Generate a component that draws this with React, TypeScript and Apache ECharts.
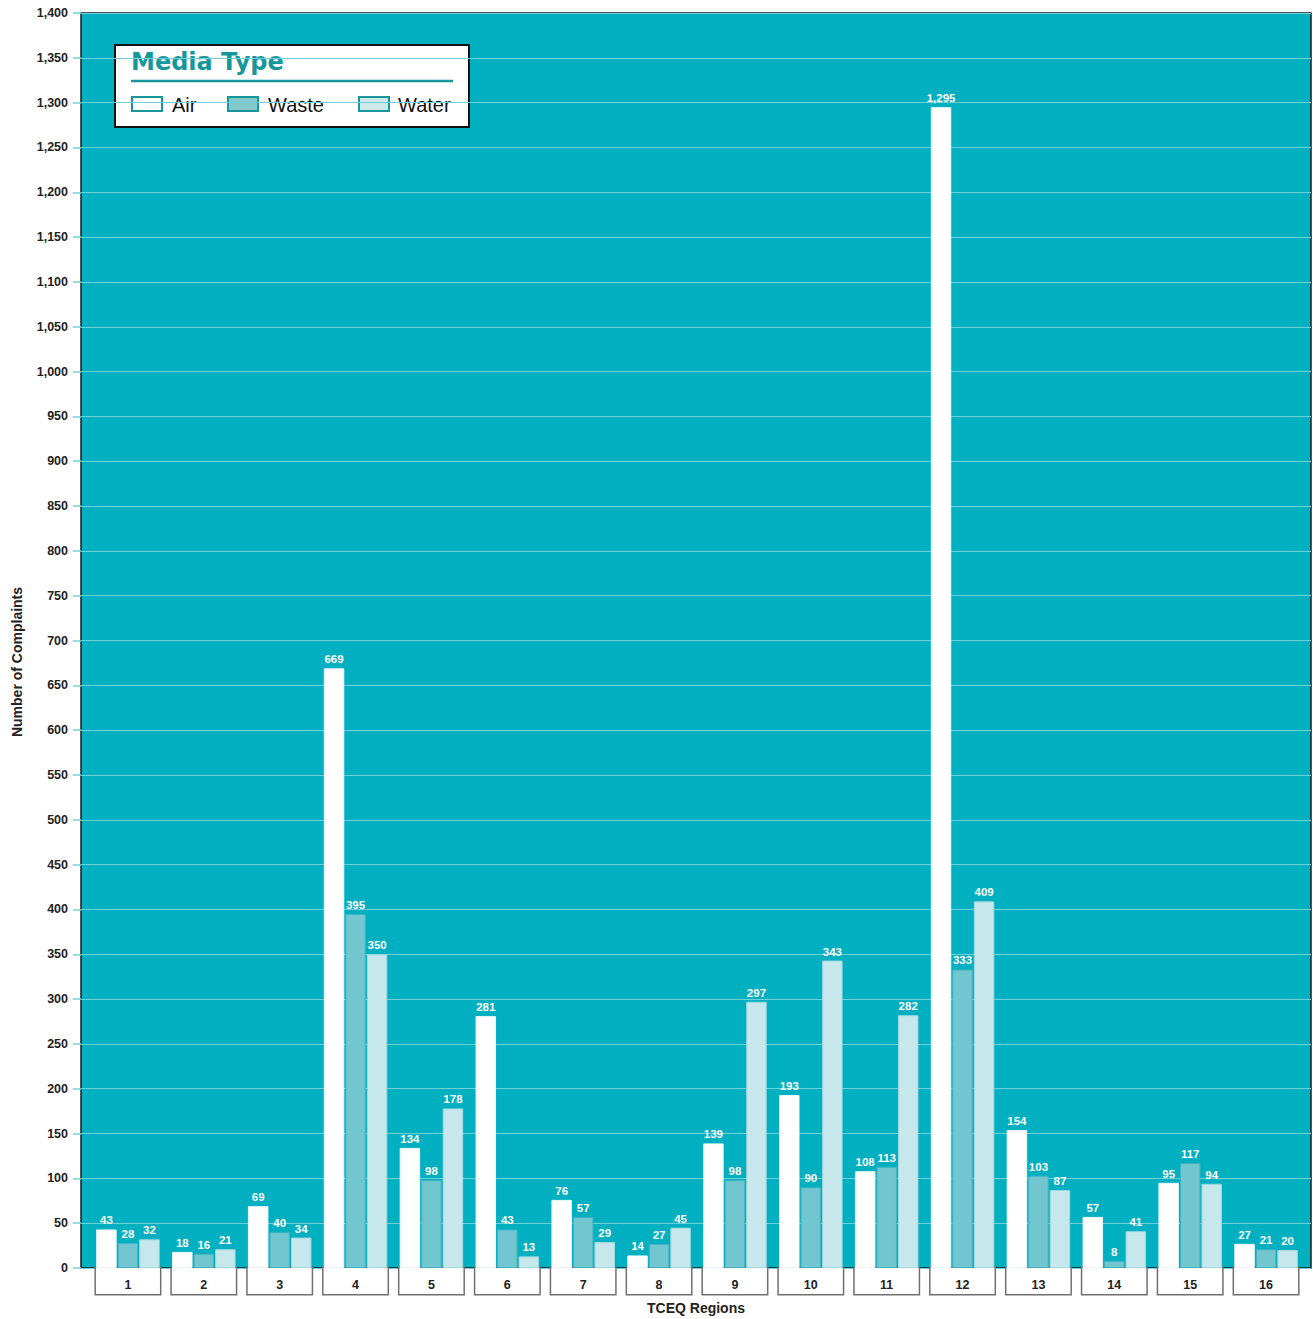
import React, { useEffect, useRef } from "react";
import * as echarts from "echarts";

// TCEQ complaints by region and media type
const regions = ["1", "2", "3", "4", "5", "6", "7", "8", "9", "10", "11", "12", "13", "14", "15", "16"];
const airValues = [43, 18, 69, 669, 134, 281, 76, 14, 139, 193, 108, 1295, 154, 57, 95, 27];
const wasteValues = [28, 16, 40, 395, 98, 43, 57, 27, 98, 90, 113, 333, 103, 8, 117, 21];
const waterValues = [32, 21, 34, 350, 178, 13, 29, 45, 297, 343, 282, 409, 87, 41, 94, 20];
const yMin = 0;
const yMax = 1400;
const yStep = 50;

const NARROW = "'Liberation Sans', Arial, sans-serif";
const SANS = "'Liberation Sans', Arial, sans-serif";
const TEAL_BG = "#00afc0";
const GRID_LINE = "#6fd0da";
const LEGEND_TEAL = "#17979a";

const fmt = (v: number) => v.toLocaleString("en-US");

export default function App() {
  const ref = useRef<HTMLDivElement>(null);

  useEffect(() => {
    if (!ref.current) return;
    const chart = echarts.init(ref.current, null, { renderer: "svg" });

    const barLabel = {
      show: true,
      position: "top" as const,
      distance: 3,
      color: "#ffffff",
      fontFamily: NARROW,
      fontWeight: "bold" as const,
      fontSize: 11.5,
      formatter: (p: any) => fmt(p.value),
    };

    const makeSeries = (name: string, data: number[], color: string, border: string) => ({
      name,
      type: "bar",
      xAxisIndex: 1,
      yAxisIndex: 1,
      data,
      barWidth: 20.5,
      barGap: "5%",
      itemStyle: { color, borderColor: border, borderWidth: 1 },
      label: barLabel,
    });

    chart.setOption({
      animation: false,
      backgroundColor: "#ffffff",
      grid: [
        {
          left: 81,
          right: 2,
          top: 13,
          bottom: 51,
          show: true,
          backgroundColor: TEAL_BG,
          borderColor: "#1d1d1d",
          borderWidth: 1.5,
          outerBoundsMode: "none",
          containLabel: false,
        },
        { left: 90, right: 9, top: 13, bottom: 51, outerBoundsMode: "none", containLabel: false },
      ],
      xAxis: [
        { gridIndex: 0, type: "value", show: false, min: 0, max: 1 },
        {
          gridIndex: 1,
          type: "category",
          data: regions,
          axisLine: { show: false },
          axisTick: { show: false },
          axisLabel: {
            margin: 0,
            interval: 0,
            color: "#222",
            fontFamily: NARROW,
            fontWeight: "bold",
            fontSize: 12.5,
            width: 64,
            height: 15,
            lineHeight: 15,
            align: "center",
            padding: [9, 0, 2, 0],
            backgroundColor: "#ffffff",
            borderColor: "#707070",
            borderWidth: 1.5,
          },
        },
      ],
      yAxis: [
        {
          gridIndex: 0,
          type: "value",
          min: yMin,
          max: yMax,
          interval: yStep,
          axisLine: { show: false },
          axisTick: { show: true, length: 8, lineStyle: { color: GRID_LINE, width: 1.5 } },
          splitLine: { show: true, lineStyle: { color: GRID_LINE, width: 1 } },
          axisLabel: {
            margin: 13,
            color: "#222",
            fontFamily: NARROW,
            fontWeight: "bold",
            fontSize: 12.5,
            formatter: (v: number) => fmt(v),
          },
        },
        { gridIndex: 1, type: "value", min: yMin, max: yMax, interval: yStep, show: false },
      ],
      series: [
        makeSeries("Air", airValues, "#ffffff", "#e8f7f9"),
        makeSeries("Waste", wasteValues, "#72c6d0", "#3db4c2"),
        makeSeries("Water", waterValues, "#c6e7eb", "#9fd8df"),
      ],
      graphic: [
        {
          type: "text",
          x: 17,
          y: 662,
          rotation: Math.PI / 2,
          style: {
            text: "Number of Complaints",
            fill: "#222",
            font: `bold 14px ${NARROW}`,
            align: "center",
            verticalAlign: "middle",
          },
        },
        {
          type: "text",
          x: 696,
          y: 1308,
          style: {
            text: "TCEQ Regions",
            fill: "#222",
            font: `bold 14px ${NARROW}`,
            align: "center",
            verticalAlign: "middle",
          },
        },
        {
          type: "group",
          left: 114,
          top: 44,
          children: [
            {
              type: "rect",
              shape: { x: 0, y: 0, width: 354, height: 82 },
              style: { fill: "#ffffff", stroke: "#111111", lineWidth: 2 },
            },
            {
              type: "text",
              x: 16,
              y: 17,
              style: {
                text: "Media Type",
                fill: LEGEND_TEAL,
                font: `bold 24px 'DejaVu Sans', ${SANS}`,
                verticalAlign: "middle",
              },
            },
            {
              type: "line",
              shape: { x1: 16, y1: 36, x2: 338, y2: 36 },
              style: { stroke: LEGEND_TEAL, lineWidth: 2.5 },
            },
            {
              type: "rect",
              shape: { x: 17, y: 52, width: 30, height: 14 },
              style: { fill: "#ffffff", stroke: LEGEND_TEAL, lineWidth: 2 },
            },
            {
              type: "text",
              x: 57,
              y: 60,
              style: { text: "Air", fill: "#111", font: `20px ${SANS}`, verticalAlign: "middle" },
            },
            {
              type: "rect",
              shape: { x: 113, y: 52, width: 30, height: 14 },
              style: { fill: "#84c9c9", stroke: LEGEND_TEAL, lineWidth: 2 },
            },
            {
              type: "text",
              x: 153,
              y: 60,
              style: { text: "Waste", fill: "#111", font: `20px ${SANS}`, verticalAlign: "middle" },
            },
            {
              type: "rect",
              shape: { x: 244, y: 52, width: 30, height: 14 },
              style: { fill: "#cde9e9", stroke: LEGEND_TEAL, lineWidth: 2 },
            },
            {
              type: "text",
              x: 283,
              y: 60,
              style: { text: "Water", fill: "#111", font: `20px ${SANS}`, verticalAlign: "middle" },
            },
          ],
        },
      ],
    });

    return () => chart.dispose();
  }, []);

  return (
    <div
      ref={ref}
      style={{ position: "fixed", left: 0, top: 0, width: 1313, height: 1319 }}
    />
  );
}
